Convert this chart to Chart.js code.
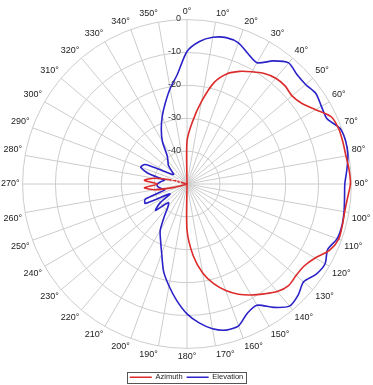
<!DOCTYPE html>
<html>
<head>
<meta charset="utf-8">
<script src="https://cdn.jsdelivr.net/npm/chart.js@4.4.0/dist/chart.umd.min.js"></script>
<style>
  html, body { margin: 0; padding: 0; background: #fff; }
  #wrap { width: 373px; height: 385px; }
</style>
</head>
<body>
<div id="wrap"><canvas id="chart-pattern"></canvas></div>
<script>
// angle in degrees, clockwise from the top, 5 degree steps
var angles = [0, 5, 10, 15, 20, 25, 30, 35, 40, 45, 50, 55, 60, 65, 70, 75, 80, 85,
  90, 95, 100, 105, 110, 115, 120, 125, 130, 135, 140, 145, 150, 155, 160, 165, 170, 175,
  180, 185, 190, 195, 200, 205, 210, 215, 220, 225, 230, 235, 240, 245, 250, 255, 260, 265,
  270, 275, 280, 285, 290, 295, 300, 305, 310, 315, 320, 325, 330, 335, 340, 345, 350, 355];

// gain in dB
var azimuth = [-37, -31, -24.5, -18, -14.3, -12.2, -10.6, -9, -8, -7.8, -8.3, -7.3, -4.8, -1.6, -0.9, -0.9, -0.9, -0.5,
  -0.3, -1.0, -1.3, -1.1, -0.9, -2.2, -5, -6.5, -6.7, -6.3, -7.3, -9.2, -11, -13, -15.5, -18.6, -22.5, -28,
  -36, -50, -50, -50, -50, -50, -50, -50, -50, -50, -50, -50, -50, -50, -50, -46, -40, -37,
  -41, -37, -40, -46, -50, -50, -50, -50, -50, -50, -50, -50, -50, -50, -50, -50, -50, -50];

var elevation = [-9.7, -6.5, -4.7, -3.9, -4.3, -6.2, -7.4, -4.3, -1.9, -2.8, -2.9, -2.1, -2.8, -3.0, -0.5, 0, -0.3, -1.2,
  -2.0, -1.9, -1.5, -1.2, -1.4, -2.8, -1.5, -2.1, -3.7, -2.2, -1.5, -4.2, -7.4, -6.6, -4.1, -4.0, -5.3, -7.6,
  -10.5, -14.4, -18.5, -22.5, -27.5, -31, -33.7, -38, -41, -42, -37.5, -40, -44, -36, -36.5, -43, -42, -41,
  -41, -42, -43, -38, -35, -36, -43, -45, -44, -42, -41, -39.5, -35, -31.5, -28, -24.5, -20.5, -16.5];

var dbTicks = [0, -10, -20, -30, -40, -50];

var fontFamily = "'Liberation Sans', Arial, Helvetica, sans-serif";

// tick labels sit just left of the 0 degree line
var tickLabels = {
  id: 'tickLabels',
  afterDatasetsDraw: function(chart) {
    var scale = chart.scales.r;
    var c = chart.ctx;
    c.save();
    c.font = '9px ' + fontFamily;
    c.textAlign = 'right';
    c.textBaseline = 'middle';
    dbTicks.forEach(function(v) {
      var r = scale.getDistanceFromCenterForValue(v);
      c.fillStyle = v === -50 ? '#ffffff' : '#333333';
      c.fillText(String(v), scale.xCenter - 6, scale.yCenter - r - 1);
    });
    c.restore();
  }
};

// thin frame round the legend
var legendBox = {
  id: 'legendBox',
  afterDraw: function(chart) {
    var boxes = chart.legend.legendHitBoxes;
    if (!boxes || !boxes.length) return;
    var first = boxes[0], last = boxes[boxes.length - 1];
    var c = chart.ctx;
    c.save();
    c.strokeStyle = '#555555';
    c.lineWidth = 1;
    var x0 = Math.round(first.left - 3) + 0.5;
    var x1 = Math.round(last.left + last.width + 3) + 0.5;
    var y0 = Math.round(first.top - 2) + 0.5;
    var y1 = Math.round(first.top + first.height + 2) + 0.5;
    c.strokeRect(x0, y0, x1 - x0, y1 - y0);
    c.restore();
  }
};

var ctx = document.getElementById("chart-pattern").getContext('2d');
var myChart = new Chart(ctx, {
  type: "radar",
  data: {
    labels: angles,
    datasets: [
      {
        label: "Azimuth",
        data: azimuth,
        borderColor: "#dd2b2b",
        backgroundColor: "#dd2b2b",
        borderWidth: 1.6,
        pointRadius: 0,
        fill: false,
        tension: 0.25
      },
      {
        label: "Elevation",
        data: elevation,
        borderColor: "#2b22c8",
        backgroundColor: "#2b22c8",
        borderWidth: 1.6,
        pointRadius: 0,
        fill: false,
        tension: 0.25
      }
    ]
  },
  options: {
    responsive: true,
    maintainAspectRatio: false,
    animation: false,
    layout: { padding: { bottom: -6 } },
    plugins: {
      legend: {
        position: 'bottom',
        labels: {
          usePointStyle: true,
          pointStyle: 'line',
          pointStyleWidth: 22,
          padding: 4,
          color: '#222',
          font: { family: fontFamily, size: 7.5 }
        }
      },
      tooltip: { enabled: false }
    },
    scales: {
      r: {
        min: -50,
        max: 0,
        ticks: { stepSize: 10, display: false },
        grid: { circular: true, color: '#cccccc', lineWidth: 1 },
        angleLines: {
          color: '#cccccc',
          lineWidth: function(c) { return c.index % 2 === 0 ? 1 : 0; }
        },
        pointLabels: {
          padding: 3,
          color: '#222',
          font: { family: fontFamily, size: 9 },
          callback: function(label) { return label % 10 === 0 ? label + '°' : ''; }
        }
      }
    }
  },
  plugins: [tickLabels, legendBox]
});
</script>
</body>
</html>
